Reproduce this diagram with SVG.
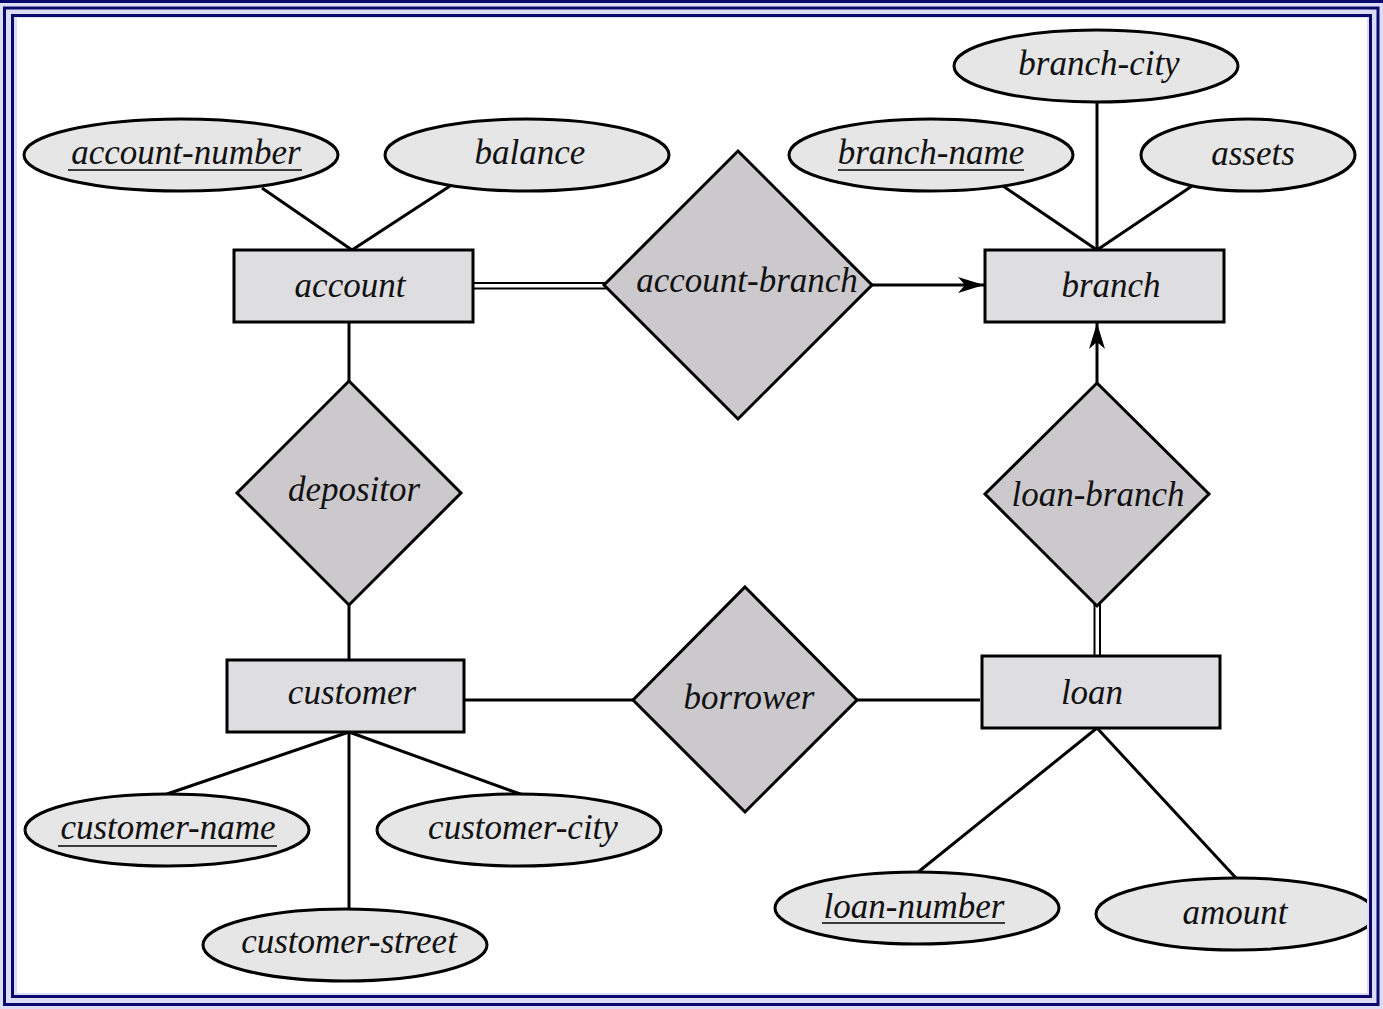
<svg xmlns="http://www.w3.org/2000/svg" width="1383" height="1009" viewBox="0 0 1383 1009">
<defs>
<style>
.ent{fill:#dedde0;stroke:#000;stroke-width:3}
.rel{fill:#ccc9cd;stroke:#000;stroke-width:3;stroke-linejoin:miter}
.att{fill:#e6e6e6;stroke:#000;stroke-width:3}
.lbl{font-family:"Liberation Serif","DejaVu Serif",serif;font-style:italic;font-size:35px;fill:#111;text-anchor:middle}
.ln{stroke:#000;stroke-width:3;fill:none}
.dl{stroke:#000;stroke-width:2;fill:none}
.ul{stroke:#000;stroke-width:1.5}
.fr{fill:none;stroke:#0a0a6e;stroke-width:3}
</style>
<marker id="arr" markerUnits="userSpaceOnUse" markerWidth="26" markerHeight="18" refX="26" refY="9" orient="auto">
<path d="M0,1 L26,9 L0,17 L7,9 z" fill="#000"/>
</marker>
</defs>
<rect width="1383" height="1009" fill="#fff"/>
<g id="connectors">
<line class="ln" x1="262" y1="188" x2="352" y2="250"/>
<line class="ln" x1="450" y1="186" x2="352" y2="250"/>
<line class="ln" x1="1003" y1="186" x2="1097" y2="250"/>
<line class="ln" x1="1097" y1="102" x2="1097" y2="250"/>
<line class="ln" x1="1192" y1="186" x2="1097" y2="250"/>
<line class="dl" x1="473" y1="283" x2="606" y2="283"/>
<line class="dl" x1="473" y1="288.5" x2="606" y2="288.5"/>
<line class="ln" x1="872" y1="285" x2="984" y2="285" marker-end="url(#arr)"/>
<line class="ln" x1="349" y1="322" x2="349" y2="381"/>
<line class="ln" x1="349" y1="605" x2="349" y2="660"/>
<line class="ln" x1="1097" y1="383" x2="1097" y2="323" marker-end="url(#arr)"/>
<line class="dl" x1="1094.5" y1="604" x2="1094.5" y2="656"/>
<line class="dl" x1="1100" y1="604" x2="1100" y2="656"/>
<line class="ln" x1="464" y1="700" x2="633" y2="700"/>
<line class="ln" x1="857" y1="700" x2="980" y2="700"/>
<line class="ln" x1="349" y1="732" x2="167" y2="794"/>
<line class="ln" x1="349" y1="732" x2="523" y2="795"/>
<line class="ln" x1="349" y1="732" x2="349" y2="909"/>
<line class="ln" x1="1097" y1="728" x2="917" y2="873"/>
<line class="ln" x1="1097" y1="728" x2="1236" y2="878"/>
</g>
<g id="account"><rect class="ent" x="234" y="250" width="239" height="72"/><text class="lbl" x="350" y="297">account</text></g>
<g id="branch"><rect class="ent" x="985" y="250" width="239" height="72"/><text class="lbl" x="1111" y="297">branch</text></g>
<g id="customer"><rect class="ent" x="227" y="660" width="237" height="72"/><text class="lbl" x="352" y="704">customer</text></g>
<g id="loan"><rect class="ent" x="982" y="656" width="238" height="72"/><text class="lbl" x="1092" y="704">loan</text></g>
<g id="account-branch"><polygon class="rel" points="738,151 872,285 738,419 604,285"/><text class="lbl" x="747" y="292">account-branch</text></g>
<g id="depositor"><polygon class="rel" points="349,381 461,493 349,605 237,493"/><text class="lbl" x="354" y="501">depositor</text></g>
<g id="loan-branch"><polygon class="rel" points="1097,383 1209,494 1097,606 985,494"/><text class="lbl" x="1098" y="506">loan-branch</text></g>
<g id="borrower"><polygon class="rel" points="745,587 857,700 745,812 633,700"/><text class="lbl" x="749" y="709">borrower</text></g>
<g id="account-number"><ellipse class="att" cx="181" cy="155" rx="157" ry="36"/><text class="lbl" x="186" y="164">account-number</text><line class="ul" x1="68" y1="170" x2="302" y2="170"/></g>
<g id="balance"><ellipse class="att" cx="527" cy="155" rx="142" ry="36"/><text class="lbl" x="530" y="164">balance</text></g>
<g id="branch-city"><ellipse class="att" cx="1096" cy="66" rx="142" ry="36"/><text class="lbl" x="1099" y="75">branch-city</text></g>
<g id="branch-name"><ellipse class="att" cx="931" cy="155" rx="142" ry="36"/><text class="lbl" x="931" y="164">branch-name</text><line class="ul" x1="838" y1="170" x2="1024" y2="170"/></g>
<g id="assets"><ellipse class="att" cx="1248" cy="155" rx="107" ry="36"/><text class="lbl" x="1253" y="165">assets</text></g>
<g id="customer-name"><ellipse class="att" cx="167" cy="830" rx="142" ry="36"/><text class="lbl" x="168" y="839">customer-name</text><line class="ul" x1="58" y1="846" x2="277" y2="846"/></g>
<g id="customer-city"><ellipse class="att" cx="519" cy="830" rx="142" ry="36"/><text class="lbl" x="523" y="839">customer-city</text></g>
<g id="customer-street"><ellipse class="att" cx="345" cy="945" rx="142" ry="36"/><text class="lbl" x="349" y="953">customer-street</text></g>
<g id="loan-number"><ellipse class="att" cx="917" cy="908" rx="142" ry="36"/><text class="lbl" x="914" y="918">loan-number</text><line class="ul" x1="822" y1="923" x2="1005" y2="923"/></g>
<g id="amount"><ellipse class="att" cx="1236" cy="914" rx="140" ry="36"/><text class="lbl" x="1235" y="924">amount</text></g>
<g id="frame">
<path fill="#dcdcf6" fill-rule="evenodd" d="M0,0 H1383 V1009 H0 Z M17,18 H1367 V993 H17 Z"/>
<rect x="0" y="0" width="1383" height="3" fill="#0a0a6e"/>
<rect class="fr" x="4.5" y="8" width="1373.5" height="996.5"/>
<rect class="fr" x="12.5" y="15.5" width="1358" height="981"/>
</g>
</svg>
